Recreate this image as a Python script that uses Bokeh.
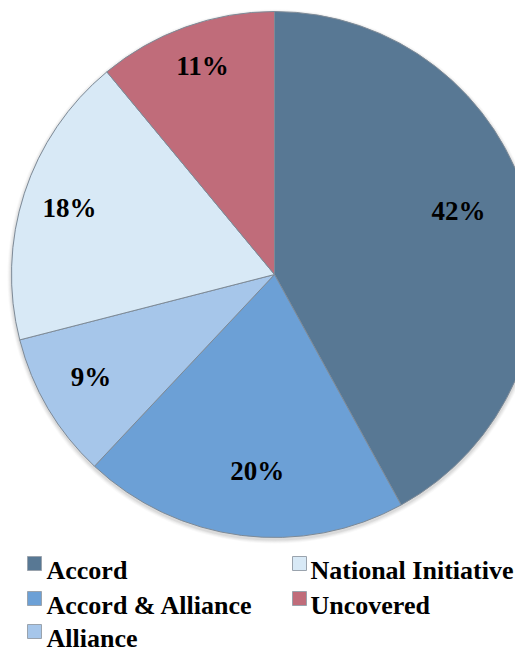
import math
from bokeh.plotting import figure
from bokeh.models import Range1d, ColumnDataSource
from bokeh.core.properties import value
from bokeh.embed import file_html
from bokeh.resources import INLINE

# ---- data ----
categories = ["Accord", "Accord & Alliance", "Alliance", "National Initiative", "Uncovered"]
shares = [42, 20, 9, 18, 11]
colors = ["#587894", "#6CA0D6", "#A6C6EA", "#D8E9F6", "#C06C7A"]

# ---- layout ----
W, H = 515, 655
CX, CY, R = 274, H - 274, 263
label_rfrac = [0.74, 0.75, 0.80, 0.82, 0.84]
label_afrac = [0.47, 0.47, 0.54, 0.50, 0.52]
FONT = value("Liberation Serif")

p = figure(width=W, height=H, output_backend="svg", toolbar_location=None,
           x_range=Range1d(0, W), y_range=Range1d(0, H), min_border=0)
p.axis.visible = False
p.grid.visible = False
p.outline_line_color = None
p.background_fill_color = "white"
p.border_fill_color = "white"

# soft shadow
for dr, a in [(4, 0.05), (3, 0.07), (2, 0.09), (1, 0.12)]:
    p.circle(x=CX, y=CY - 2, radius=R + dr, fill_color="#808080", fill_alpha=a, line_color=None)

total = float(sum(shares))
starts, ends, lx, ly, texts = [], [], [], [], []
cum = 0.0
for i, v in enumerate(shares):
    a0 = math.pi / 2 - 2 * math.pi * cum / total
    a1 = math.pi / 2 - 2 * math.pi * (cum + v) / total
    starts.append(a0)
    ends.append(a1)
    am = a0 + (a1 - a0) * label_afrac[i]
    lx.append(CX + R * label_rfrac[i] * math.cos(am))
    ly.append(CY + R * label_rfrac[i] * math.sin(am))
    texts.append(f"{v}%")
    cum += v

src = ColumnDataSource(dict(start=starts, end=ends, color=colors, cat=categories))
p.wedge(x=CX, y=CY, radius=R, start_angle="start", end_angle="end", direction="clock",
        fill_color="color", line_color="#7d8a97", line_width=1, source=src)

p.text(x=lx, y=ly, text=texts, text_font=FONT, text_font_style="bold",
       text_font_size="27px", text_align="center", text_baseline="middle", text_color="black")

# ---- legend (manual, column-major, 3 rows x 2 cols) ----
col_sq = [34, 299]       # square centre x
col_tx = [46, 310]       # text left x
row_mid = [H - 570, H - 605, H - 638]   # text middle (canvas y -> data y)
sq_x, sq_y, tx, ty, tt, sc = [], [], [], [], [], []
for i, c in enumerate(categories):
    col, row = divmod(i, 3)
    sq_x.append(col_sq[col])
    sq_y.append(row_mid[row] + 7)
    tx.append(col_tx[col])
    ty.append(row_mid[row])
    tt.append(c)
    sc.append(colors[i])
p.rect(x=sq_x, y=sq_y, width=14, height=14, fill_color=sc, line_color="#9aa3ad", line_width=1)
p.text(x=tx, y=ty, text=tt, text_font=FONT, text_font_style="bold", text_font_size="26px",
       text_align="left", text_baseline="middle", text_color="black")

open("out.html", "w").write(file_html(p, INLINE))
